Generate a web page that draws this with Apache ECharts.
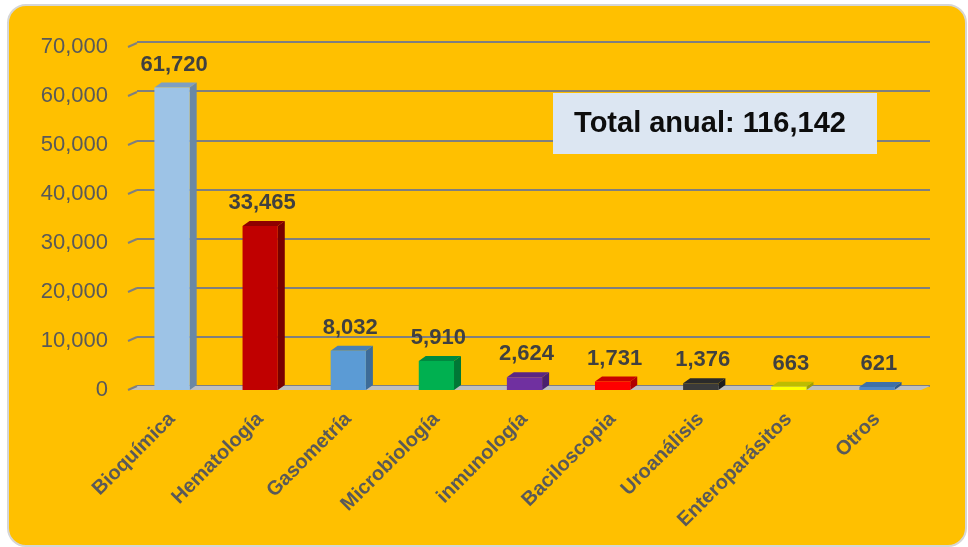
<!DOCTYPE html>
<html>
<head>
<meta charset="utf-8">
<script src="https://cdn.jsdelivr.net/npm/echarts@6/dist/echarts.min.js"></script>
<style>
html,body{margin:0;padding:0;background:#ffffff;}
#c{width:968px;height:547px;}
</style>
</head>
<body>
<div id="c"></div>
<script>
const categories = ['Bioquímica','Hematología','Gasometría','Microbiología','inmunología','Baciloscopia','Uroanálisis','Enteroparásitos','Otros'];
const values = [61720, 33465, 8032, 5910, 2624, 1731, 1376, 663, 621];
const yTicks = [0, 10000, 20000, 30000, 40000, 50000, 60000, 70000];
const totalLabel = 'Total anual: 116,142';

const palette = [
  {front:'#9DC3E6', side:'#6B88A4', top:'#7E9FC2'},
  {front:'#C00000', side:'#780000', top:'#8E0000'},
  {front:'#5B9BD5', side:'#3D6C98', top:'#4A80B3'},
  {front:'#00B050', side:'#007836', top:'#008A40'},
  {front:'#7030A0', side:'#4B1F6E', top:'#5A2684'},
  {front:'#FF0000', side:'#B00000', top:'#C80000'},
  {front:'#3A3A3A', side:'#1E1E1E', top:'#2A2A2A'},
  {front:'#FFFF00', side:'#A0A000', top:'#BDBD00'},
  {front:'#4F86C6', side:'#30598A', top:'#3F70A8'}
];
const FONT = '"Liberation Sans", Arial, sans-serif';
const DX = 7, DY = -5;

const chart = echarts.init(document.getElementById('c'), null, {renderer:'canvas'});

function renderBar(params, api) {
  const i = api.value(0);
  const v = api.value(1);
  const base = api.coord([i, 0]);
  const top = api.coord([i, v]);
  const bw = api.size([1, 0])[0] * 0.4;
  const x0 = base[0] - bw / 2, x1 = base[0] + bw / 2;
  const yb = base[1], yt = top[1];
  const c = palette[i];
  return {
    type: 'group',
    children: [
      {type:'polygon', shape:{points:[[x1,yt],[x1+DX,yt+DY],[x1+DX,yb+DY],[x1,yb]]}, style:{fill:c.side}},
      {type:'polygon', shape:{points:[[x0,yt],[x0+DX,yt+DY],[x1+DX,yt+DY],[x1,yt]]}, style:{fill:c.top}},
      {type:'rect', shape:{x:x0, y:yt, width:bw, height:yb-yt}, style:{fill:c.front}},
      {type:'text', style:{text:v.toLocaleString('en-US'), x:base[0]+2, y:yt-12, align:'center', verticalAlign:'bottom',
        fontFamily:FONT, fontWeight:'bold', fontSize:22, fill:'#404040'}}
    ]
  };
}

function renderDecor(params, api) {
  const v = api.value(1);
  const cs = params.coordSys;
  const p = api.coord([0, v]);
  const x0 = cs.x;
  const children = [];
  if (v === 0) {
    const yb = p[1];
    children.push({type:'polygon', shape:{points:[[x0,yb],[x0+cs.width,yb],[x0+cs.width+9,yb-4],[x0+9,yb-4]]},
      style:{fill:'#BFBFBF'}});
  }
  children.push({type:'line', shape:{x1:x0, y1:p[1], x2:x0+9, y2:p[1]-4}, style:{stroke:'#7F7F7F', lineWidth:2}});
  return {type:'group', children};
}

const option = {
  backgroundColor: '#ffffff',
  animation: false,
  graphic: [
    {type:'rect', z:-10, shape:{x:8, y:5, width:958, height:541, r:18},
      style:{fill:'#FFC000', stroke:'#D6D6D6', lineWidth:2}},
    {type:'rect', z:10, shape:{x:553, y:93, width:324, height:61}, style:{fill:'#DCE6F2'}},
    {type:'text', z:11, style:{text:totalLabel, x:710, y:124, align:'center', verticalAlign:'middle',
      fontFamily:FONT, fontWeight:'bold', fontSize:29, fill:'#0D0D0D'}}
  ],
  grid: [
    {left:128, right:47, top:47, bottom:157},
    {left:137, right:38, top:42, bottom:161}
  ],
  xAxis: [
    {type:'category', gridIndex:0, data:categories, boundaryGap:true,
      axisLine:{show:false}, axisTick:{show:false},
      axisLabel:{interval:0, rotate:45, margin:26, fontFamily:FONT, fontWeight:'bold', fontSize:20, color:'#595959'}},
    {type:'category', gridIndex:1, data:categories, show:false}
  ],
  yAxis: [
    {type:'value', gridIndex:0, min:0, max:70000, interval:10000,
      axisLine:{show:false}, axisTick:{show:false}, splitLine:{show:false},
      axisLabel:{margin:20, fontFamily:FONT, fontSize:22, color:'#595959',
        formatter: v => v.toLocaleString('en-US')}},
    {type:'value', gridIndex:1, min:0, max:70000, interval:10000,
      axisLine:{show:false}, axisTick:{show:false}, axisLabel:{show:false},
      splitLine:{show:true, lineStyle:{color:'#7F7F7F', width:2}}}
  ],
  series: [
    {type:'custom', xAxisIndex:0, yAxisIndex:0, z:1, renderItem:renderDecor,
      data: yTicks.map(v => [0, v]), silent:true},
    {type:'custom', xAxisIndex:0, yAxisIndex:0, z:3, renderItem:renderBar,
      data: values.map((v, i) => [i, v])}
  ]
};
chart.setOption(option);
</script>
</body>
</html>
